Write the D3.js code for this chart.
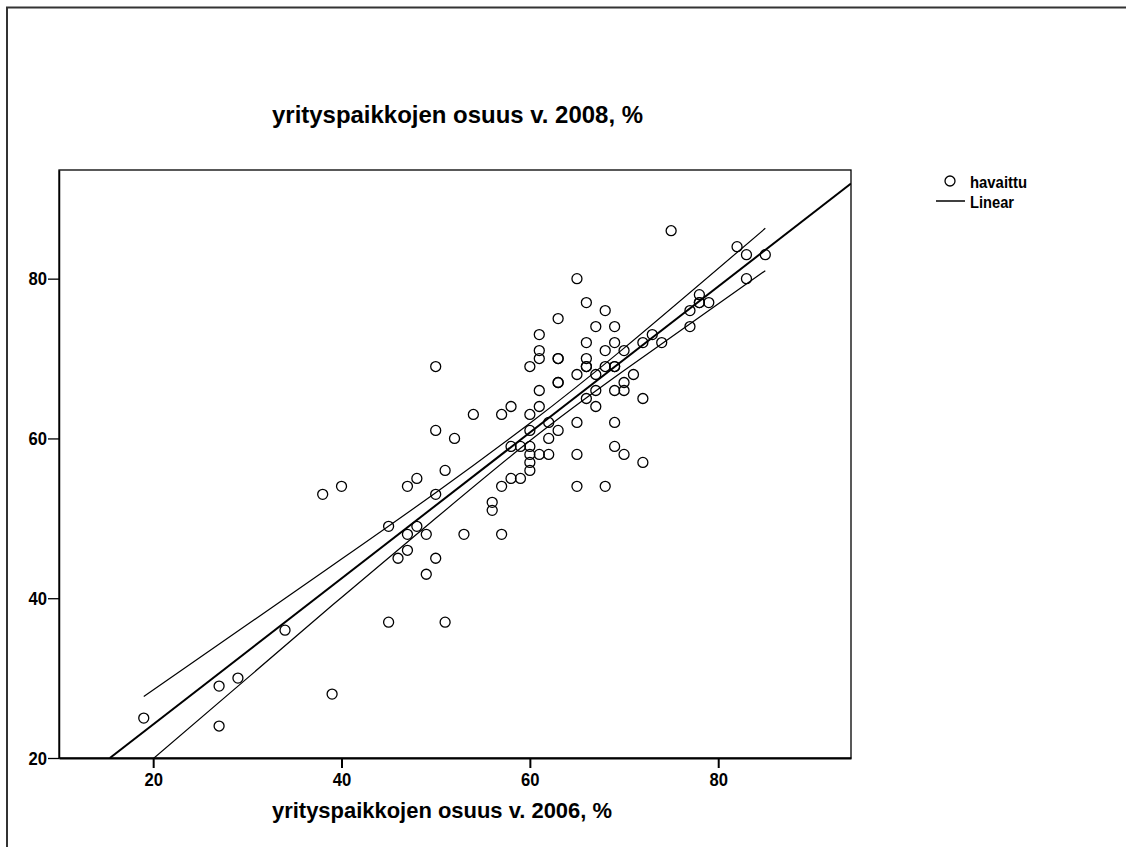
<!DOCTYPE html>
<html>
<head>
<meta charset="utf-8">
<script src="https://cdn.jsdelivr.net/npm/d3@7"></script>
<style>
  html, body { margin: 0; padding: 0; background: #fff; }
  svg { display: block; }
  text { font-family: "Liberation Sans", Arial, Helvetica, sans-serif; font-weight: bold; fill: #000; }
</style>
</head>
<body>
<svg id="chart" width="1126" height="847"></svg>
<script>
// ---- data ----
const xValues = [19,27,27,29,34,38,39,40,45,45,46,47,47,47,48,48,49,49,50,50,50,50,51,51,52,53,54,56,56,57,57,57,58,58,58,59,59,
  60,60,60,60,60,60,60,61,61,61,61,61,61,62,62,62,63,63,63,63,63,63,65,65,65,65,65,66,66,66,66,66,66,
  67,67,67,67,68,68,68,68,69,69,69,69,69,69,69,70,70,70,70,71,72,72,72,73,74,75,77,77,78,78,78,79,82,83,83,85];
const yValues = [25,29,24,30,36,53,28,54,49,37,45,54,48,46,55,49,48,43,69,61,53,45,56,37,60,48,63,52,51,63,54,48,64,59,55,59,55,
  69,63,61,59,58,57,56,73,71,70,66,64,58,62,60,58,75,70,70,67,67,61,80,68,62,58,54,77,72,70,69,69,65,
  74,68,66,64,76,71,69,54,74,72,69,69,66,62,59,71,67,66,58,68,72,65,57,73,72,86,76,74,78,77,77,77,84,83,80,83];

// fitted line (endpoints)
const fitX = [15.4, 94.1];
const fitY = [20, 91.9];
// 95% mean confidence band, read at several x positions
const bandX = [19, 30, 40, 50, 60, 70, 85];
const bandUpper = [27.7, 36.7, 44.9, 53.2, 61.9, 71.3, 86.3];
const bandLower = [18.9, 30.0, 40.1, 50.0, 59.7, 68.5, 81.0];

const xTicks = [20, 40, 60, 80];
const yTicks = [20, 40, 60, 80];
const xDomain = [10, 94.1];
const yDomain = [20, 93.6];

const titleText = "yrityspaikkojen osuus v. 2008, %";
const xTitleText = "yrityspaikkojen osuus v. 2006, %";
const legendLabels = ["havaittu", "Linear"];

// ---- layout ----
const svg = d3.select("#chart");
const L = 59, R = 851, T = 170, B = 758;

const x = d3.scaleLinear().domain(xDomain).range([L, R]);
const y = d3.scaleLinear().domain(yDomain).range([B, T]);

// outer border (page frame)
svg.append("path")
  .attr("d", `M7,847 L7,7.5 L1126,7.5`)
  .attr("fill", "none").attr("stroke", "#333").attr("stroke-width", 2);

// clip
svg.append("defs").append("clipPath").attr("id", "plotclip")
  .append("rect").attr("x", L).attr("y", T).attr("width", R - L).attr("height", B - T);

// plot frame
svg.append("rect")
  .attr("x", L).attr("y", T).attr("width", R - L).attr("height", B - T)
  .attr("fill", "none").attr("stroke", "#000").attr("stroke-width", 1.3);

// axes
const xAxis = d3.axisBottom(x).tickValues(xTicks).tickSize(10).tickSizeOuter(0).tickPadding(6);
const gx = svg.append("g").attr("transform", `translate(0,${B})`).call(xAxis);
gx.select(".domain").attr("stroke", "#000").attr("stroke-width", 2);
gx.selectAll(".tick line").attr("stroke", "#000").attr("stroke-width", 2);
gx.selectAll(".tick text").style("font-size", "17.5px").style("font-family", "Liberation Sans, Arial, sans-serif")
  .style("font-weight", "bold").attr("fill", "#000").attr("dy", "0.66em")
  .attr("textLength", 18.5).attr("lengthAdjust", "spacingAndGlyphs");

const yAxis = d3.axisLeft(y).tickValues(yTicks).tickSize(11).tickSizeOuter(0).tickPadding(1);
const gy = svg.append("g").attr("transform", `translate(${L},0)`).call(yAxis);
gy.select(".domain").attr("stroke", "#000").attr("stroke-width", 1.5);
gy.selectAll(".tick line").attr("stroke", "#000").attr("stroke-width", 1.3);
gy.selectAll(".tick text").style("font-size", "17.5px").style("font-family", "Liberation Sans, Arial, sans-serif")
  .style("font-weight", "bold").attr("fill", "#000").attr("dy", "0.36em")
  .attr("textLength", 18.5).attr("lengthAdjust", "spacingAndGlyphs");

// lines
const plot = svg.append("g").attr("clip-path", "url(#plotclip)");
const bandLine = d3.line().x(d => x(d[0])).y(d => y(d[1])).curve(d3.curveNatural);
plot.append("path")
  .attr("d", bandLine(bandX.map((v, i) => [v, bandUpper[i]])))
  .attr("fill", "none").attr("stroke", "#000").attr("stroke-width", 1.2);
plot.append("path")
  .attr("d", bandLine(bandX.map((v, i) => [v, bandLower[i]])))
  .attr("fill", "none").attr("stroke", "#000").attr("stroke-width", 1.2);
plot.append("path")
  .attr("d", d3.line().x(d => x(d[0])).y(d => y(d[1]))(fitX.map((v, i) => [v, fitY[i]])))
  .attr("fill", "none").attr("stroke", "#000").attr("stroke-width", 2);

// points
plot.selectAll("circle.pt").data(xValues.map((v, i) => [v, yValues[i]]))
  .join("circle").attr("class", "pt")
  .attr("cx", d => x(d[0])).attr("cy", d => y(d[1])).attr("r", 5)
  .attr("fill", "none").attr("stroke", "#000").attr("stroke-width", 1.3);

// titles
svg.append("text").attr("x", 272).attr("y", 123)
  .attr("textLength", 371).attr("lengthAdjust", "spacingAndGlyphs")
  .style("font-size", "24px").text(titleText);
svg.append("text").attr("x", 272).attr("y", 818)
  .attr("textLength", 340).attr("lengthAdjust", "spacingAndGlyphs")
  .style("font-size", "22px").text(xTitleText);

// legend
const lg = svg.append("g");
lg.append("circle").attr("cx", 950).attr("cy", 181).attr("r", 5)
  .attr("fill", "none").attr("stroke", "#000").attr("stroke-width", 1.3);
lg.append("line").attr("x1", 936).attr("x2", 965).attr("y1", 201).attr("y2", 201)
  .attr("stroke", "#000").attr("stroke-width", 1.5);
lg.append("text").attr("x", 970).attr("y", 188).style("font-size", "16px")
  .attr("textLength", 57).attr("lengthAdjust", "spacingAndGlyphs").text(legendLabels[0]);
lg.append("text").attr("x", 970).attr("y", 208).style("font-size", "16px")
  .attr("textLength", 44).attr("lengthAdjust", "spacingAndGlyphs").text(legendLabels[1]);
</script>
</body>
</html>
